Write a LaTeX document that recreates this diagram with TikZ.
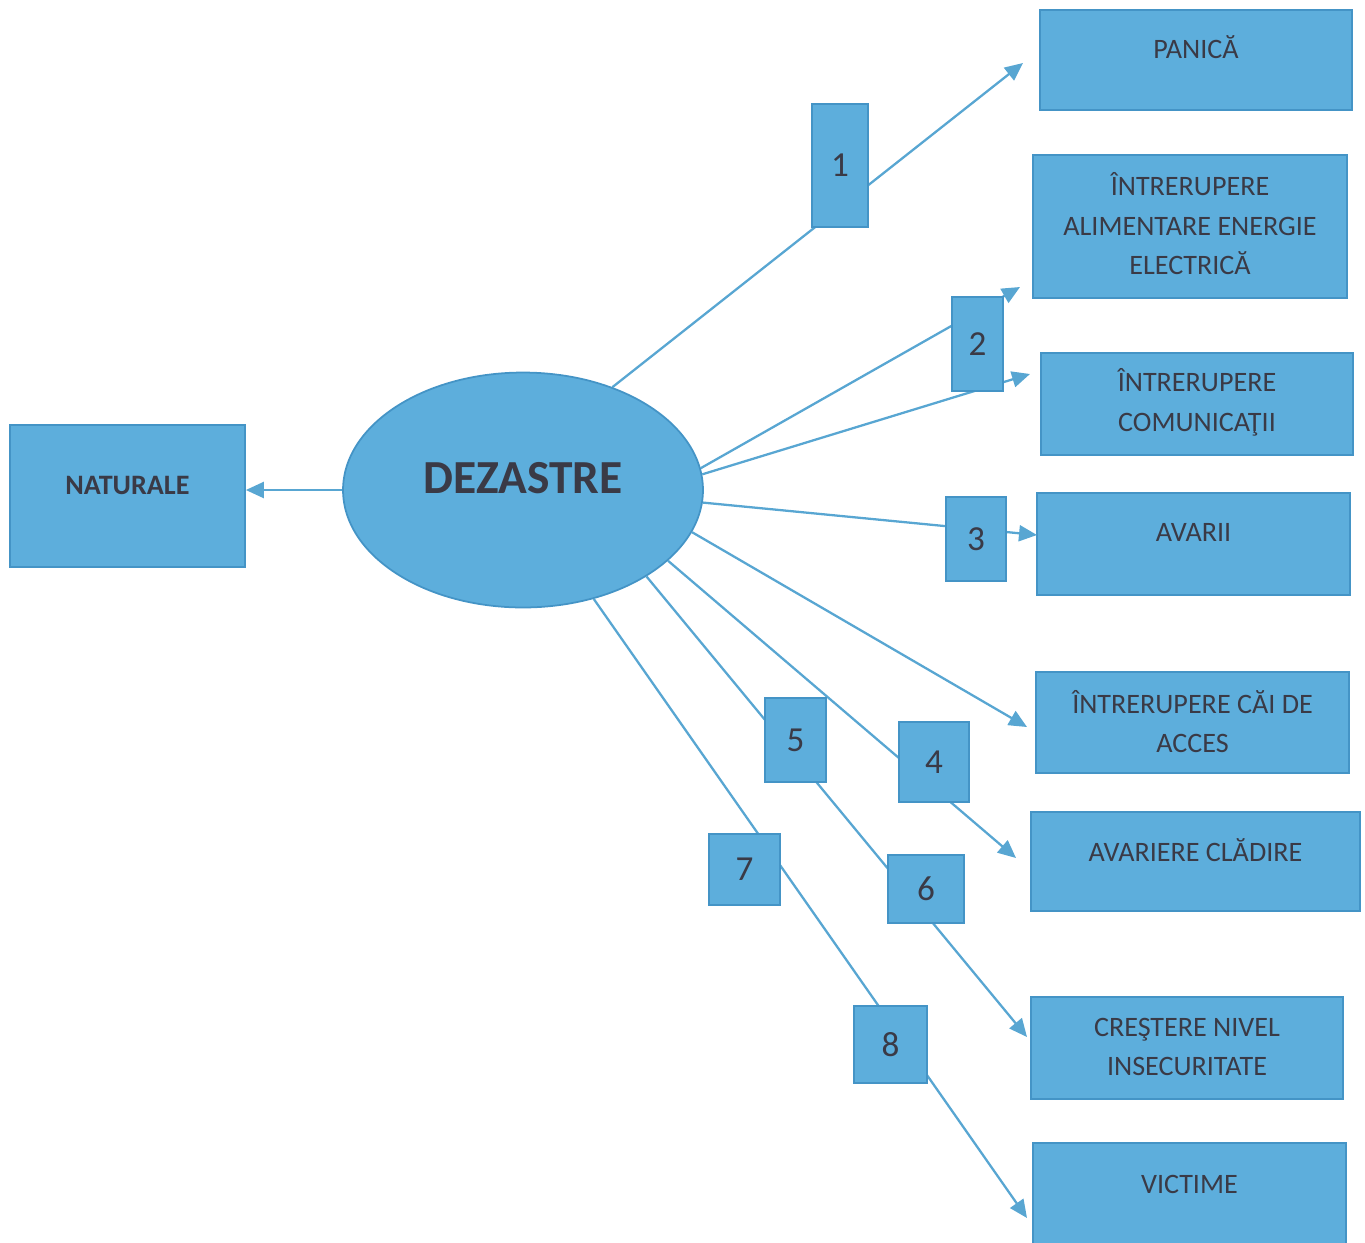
\documentclass[tikz,border=0pt]{standalone}
\usepackage{fontspec}
\setmainfont{Carlito}
\usetikzlibrary{arrows.meta,shapes.geometric}
\definecolor{boxblue}{RGB}{93,174,220}
\definecolor{edgeblue}{RGB}{68,148,198}
\definecolor{lineblue}{RGB}{88,166,210}
\definecolor{inkgray}{RGB}{58,58,70}

\begin{document}
\begin{tikzpicture}[x=0.02cm,y=-0.02cm,
  box/.style={draw=edgeblue,fill=boxblue,line width=1pt,inner sep=0pt},
  num/.style={box,text=inkgray,font=\fontsize{20}{24}\selectfont},
  txt/.style={align=center,text=inkgray,font=\fontsize{16}{22.5}\selectfont},
  link/.style={draw=lineblue,line width=1.3pt,-{Triangle[length=3.6mm,width=3.2mm]}}]
\useasboundingbox (0,0) rectangle (1365,1242);

% centre and left box
\node[box,ellipse,minimum width=7.2cm,minimum height=4.7cm] (dez) at (523,490) {};
\node[txt,font=\fontsize{27}{30}\selectfont\bfseries] (dez-t) at (523,478) {DEZASTRE};
\node[box,minimum width=4.7cm,minimum height=2.84cm] (nat) at (127.5,496) {};
\node[txt,font=\fontsize{16}{20}\selectfont\bfseries] (nat-t) at (127.5,485) {NATURALE};

% effects
\node[box,minimum width=6.24cm,minimum height=2.0cm] (panica) at (1196,60) {};
\node[txt] (panica-t) at (1196,47) {PANICĂ};
\node[box,minimum width=6.28cm,minimum height=2.86cm] (curent) at (1190,226.5) {};
\node[txt] (curent-t) at (1190,224) {ÎNTRERUPERE\\ALIMENTARE ENERGIE\\ELECTRICĂ};
\node[box,minimum width=6.24cm,minimum height=2.04cm] (comun) at (1197,404) {};
\node[txt] (comun-t) at (1197,402.5) {ÎNTRERUPERE\\COMUNICAŢII};
\node[box,minimum width=6.26cm,minimum height=2.04cm] (avarii) at (1193.5,544) {};
\node[txt] (avarii-t) at (1193.5,532) {AVARII};
\node[box,minimum width=6.26cm,minimum height=2.02cm] (acces) at (1192.5,722.5) {};
\node[txt] (acces-t) at (1192.5,721.5) {ÎNTRERUPERE CĂI DE\\ACCES};
\node[box,minimum width=6.58cm,minimum height=1.98cm] (cladire) at (1195.5,861.5) {};
\node[txt] (cladire-t) at (1195.5,850) {AVARIERE CLĂDIRE};
\node[box,minimum width=6.24cm,minimum height=2.04cm] (nivel) at (1187,1048) {};
\node[txt] (nivel-t) at (1187,1047) {CREŞTERE NIVEL\\INSECURITATE};
\node[box,minimum width=6.26cm,minimum height=2.14cm] (victime) at (1189.5,1196.5) {};
\node[txt] (victime-t) at (1189.5,1184) {VICTIME};

% arrow tips
\coordinate (t1) at (1023,63);
\coordinate (t2a) at (1020,287);
\coordinate (t2b) at (1030,374);
\coordinate (t3) at (1037,535);
\coordinate (t5) at (1027,727);
\coordinate (t4) at (1016,858);
\coordinate (t6) at (1027,1037);
\coordinate (t8) at (1027,1218);

\path[link] (dez.west) -- (dez.west -| nat.east);
\path[link] (dez.49) -- (t1);
\path[link] (dez.7) -- (t2a);
\path[link] (dez.5) -- (t2b);
\path[link] (dez.-4) -- (t3);
\path[link] (dez.-14) -- (t5);
\path[link] (dez.-26) -- (t4);
\path[link] (dez.-35.5) -- (t6);
\path[link] (dez.-57) -- (t8);

% numbers on the arrows
\node[num,minimum width=1.12cm,minimum height=2.46cm] (n1) at (840,165.5) {1};
\node[num,minimum width=1.02cm,minimum height=1.88cm] (n2) at (977.5,344) {2};
\node[num,minimum width=1.2cm,minimum height=1.68cm] (n3) at (976,539) {3};
\node[num,minimum width=1.4cm,minimum height=1.6cm] (n4) at (934,762) {4};
\node[num,minimum width=1.22cm,minimum height=1.68cm] (n5) at (795.5,740) {5};
\node[num,minimum width=1.52cm,minimum height=1.36cm] (n6) at (926,889) {6};
\node[num,minimum width=1.42cm,minimum height=1.42cm] (n7) at (744.5,869.5) {7};
\node[num,minimum width=1.46cm,minimum height=1.54cm] (n8) at (890.5,1044.5) {8};
\end{tikzpicture}
\end{document}
